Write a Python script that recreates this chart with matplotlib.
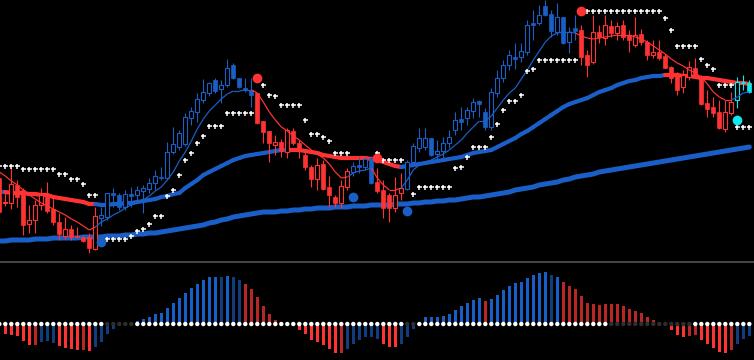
import matplotlib
matplotlib.use("Agg")
import matplotlib.pyplot as plt
import numpy as np
from matplotlib.patches import Rectangle
from matplotlib.collections import LineCollection
from matplotlib.lines import Line2D

# bar index (bar -1 is the half-visible one on the left edge)
bars = list(range(-1, 125))

opens = [83, 58, 58, 76, 71, 37, 41, 56, 64, 52, 39, 25, 32, 25, 24, 24, 12, 43, 44, 68,
         66, 54, 67, 66, 70, 72, 78, 84, 83, 109, 114, 117, 143, 149, 161, 168, 181, 172, 176, 196,
         183, 173, 171, 168, 140, 130, 116, 119, 109, 130, 118, 106, 94, 82, 97, 74, 64, 58, 74, 89,
         96, 94, 103, 79, 71, 66, 53, 68, 72, 99, 113, 114, 123, 107, 110, 118, 131, 142, 143, 150,
         160, 149, 134, 168, 183, 196, 204, 204, 209, 238, 238, 255, 247, 229, 244, 219, 233, 231, 206, 199,
         229, 223, 235, 228, 236, 226, 216, 227, 219, 206, 209, 205, 194, 186, 174, 184, 193, 184, 158, 154,
         149, 132, 148, 161, 179, 178]
highs = [91, 69, 94, 81, 73, 56, 61, 73, 79, 63, 48, 44, 36, 34, 25, 28, 54, 54, 68, 73,
         68, 71, 74, 75, 76, 83, 91, 94, 119, 134, 131, 148, 154, 168, 182, 179, 183, 181, 202, 198,
         183, 183, 183, 168, 140, 130, 126, 122, 133, 133, 121, 109, 96, 103, 101, 85, 66, 81, 93, 99,
         104, 104, 105, 93, 81, 68, 84, 88, 101, 118, 133, 133, 123, 121, 124, 131, 149, 154, 154, 163,
         161, 153, 173, 191, 201, 211, 218, 218, 241, 251, 256, 261, 251, 258, 244, 234, 246, 236, 211, 246,
         236, 246, 241, 239, 241, 231, 244, 232, 221, 221, 221, 207, 195, 189, 191, 200, 203, 186, 171, 164,
         161, 161, 169, 184, 186, 181]
lows = [47, 55, 52, 54, 26, 28, 28, 51, 48, 36, 21, 22, 21, 24, 19, 8, 11, 35, 41, 54,
        51, 51, 54, 58, 48, 68, 71, 81, 81, 107, 111, 115, 136, 139, 158, 165, 168, 158, 174, 182,
        173, 169, 154, 137, 118, 99, 106, 104, 103, 116, 103, 91, 74, 71, 71, 54, 54, 53, 71, 85,
        88, 91, 77, 68, 43, 39, 49, 61, 71, 97, 109, 111, 105, 99, 103, 113, 126, 131, 136, 143,
        144, 131, 131, 164, 179, 191, 192, 199, 206, 221, 236, 245, 224, 226, 217, 208, 221, 196, 184, 197,
        218, 216, 224, 221, 221, 209, 214, 216, 201, 203, 201, 193, 178, 166, 168, 181, 184, 156, 144, 144,
        132, 129, 146, 153, 171, 168]
closes = [49, 59, 77, 64, 36, 41, 56, 66, 50, 39, 27, 32, 24, 24, 20, 13, 45, 46, 68, 66,
          54, 67, 65, 71, 73, 78, 85, 83, 109, 117, 128, 144, 150, 162, 169, 178, 170, 176, 193, 183,
          174, 171, 166, 138, 129, 118, 119, 110, 131, 118, 111, 94, 82, 96, 72, 66, 58, 75, 90, 95,
          94, 102, 78, 70, 53, 53, 66, 73, 99, 115, 123, 123, 106, 110, 118, 124, 141, 139, 151, 159,
          157, 134, 169, 183, 196, 206, 202, 210, 236, 236, 246, 246, 230, 244, 218, 229, 230, 204, 196, 229,
          224, 236, 228, 235, 224, 221, 226, 219, 206, 209, 203, 193, 183, 171, 186, 194, 186, 157, 152, 148,
          133, 149, 159, 179, 178, 169]

# trend state of each candle: r = red, b = blue, c = cyan
trend = "r" * 17 + "b" * 26 + "r" * 16 + "b" * 4 + "r" * 5 + "b" * 29 + "r" * 26 + "c" * 3

fast_ma = [89, 85, 80, 76, 71, 66, 62, 58, 55, 52, 49, 46, 42, 39, 35, 31, 34, 39, 42, 46,
           49, 53, 56, 58, 61, 65, 70, 74, 81, 89, 100, 109, 120, 132, 142, 150, 156, 162, 167, 170,
           170, 171, 171, 168, 159, 149, 141, 134, 130, 125, 121, 116, 111, 107, 103, 97, 89, 83, 84, 88,
           90, 91, 93, 83, 76, 71, 71, 73, 81, 91, 96, 99, 101, 104, 107, 111, 116, 121, 128, 134,
           140, 140, 145, 153, 161, 168, 173, 182, 191, 201, 210, 219, 225, 228, 229, 229, 228, 225, 223, 222,
           223, 224, 225, 226, 226, 226, 224, 222, 219, 215, 211, 207, 202, 198, 195, 191, 188, 184, 177, 169,
           164, 161, 161, 164, 168, 169]
mid_ma = [69, 69, 68, 68, 68, 67, 67, 66, 66, 64, 63, 62, 61, 60, 59, 57, 57, 56, 56, 57,
          57, 58, 58, 59, 60, 61, 62, 64, 65, 67, 68, 73, 77, 81, 86, 89, 92, 95, 98, 101,
          103, 105, 106, 107, 108, 109, 110, 111, 111, 111, 111, 110, 109, 108, 106, 105, 104, 103, 103, 103,
          103, 103, 102, 101, 99, 97, 95, 94, 95, 96, 97, 98, 99, 100, 101, 102, 103, 104, 106, 108,
          109, 110, 111, 114, 117, 120, 123, 127, 130, 134, 138, 142, 146, 150, 154, 157, 159, 161, 163, 166,
          169, 171, 173, 176, 178, 180, 181, 183, 184, 185, 185, 186, 186, 186, 185, 185, 184, 183, 183, 182,
          181, 180, 179, 178, 178, 177]
mid_state = "b" * 2 + "r" * 15 + "b" * 32 + "r" * 19 + "b" * 44 + "r" * 14
slow_ma = [20, 20, 21, 21, 21, 21, 22, 22, 22, 23, 23, 23, 23, 23, 24, 24, 24, 24, 25, 25,
           25, 26, 26, 27, 27, 28, 28, 29, 30, 31, 32, 33, 34, 35, 36, 38, 39, 41, 42, 44,
           45, 46, 47, 48, 49, 49, 49, 50, 50, 51, 51, 52, 52, 53, 53, 53, 54, 54, 54, 55,
           55, 55, 56, 56, 56, 56, 57, 57, 57, 58, 58, 59, 59, 60, 60, 61, 61, 62, 63, 64,
           64, 65, 66, 67, 68, 69, 71, 72, 73, 74, 76, 77, 78, 79, 81, 82, 84, 85, 86, 87,
           89, 90, 91, 92, 93, 94, 95, 96, 97, 98, 99, 100, 101, 102, 103, 104, 105, 106, 107, 108,
           109, 110, 111, 112, 113, 114]

nan = np.nan
psar = [95, 95, 95, 95, 92, 92, 92, 92, 92, 92, 87, 87, 82, 82, 77, 66, 66, nan, 22, 22,
        22, 22, 25, 30, 32, 37, 45, 45, 65, 71, 86, 101, 108, 118, 125, 135, 135, 135, 148, 148,
        148, 148, 148, nan, 176, 166, 165, 156, 156, 156, 156, 141, 127, 127, 124, 120, 108, 108, 108, nan,
        nan, nan, nan, 108, 101, 101, 101, 101, nan, 67, 74, 74, 74, 74, 74, 74, 93, 94, 104, 114,
        114, 114, 124, 137, 151, 160, 160, 166, 190, 192, 201, 201, 201, 201, 201, 201, 201, nan, 250, 250,
        250, 250, 250, 250, 250, 250, 250, 250, 250, 250, 250, 243, 231, 215, 215, 215, 215, 202, 196, 192,
        176, 176, 176, 134, 134, 134]

# trend change dots
flip_bars = [16, 42, 58, 62, 67, 96, 122]
flip_values = [19, 183, 64, 103, 50, 250, 141]
flip_state = ["b", "r", "b", "r", "b", "r", "c"]

# momentum histogram (lower panel)
hist = [0, -10, -11, -12, -17, -21, -21, -18, -17, -19, -22, -24, -25, -26, -26, -27, -23, -18, -10, -5,
        0, 0, 0, 3, 5, 7, 10, 11, 16, 21, 26, 31, 36, 40, 44, 47, 47, 47, 48, 47,
        44, 40, 35, 27, 18, 10, 4, 0, 0, 0, -6, -10, -16, -18, -21, -25, -29, -29, -25, -20,
        -16, -13, -13, -15, -20, -23, -23, -20, -13, -5, 0, 7, 7, 7, 8, 10, 14, 18, 21, 24,
        26, 23, 25, 29, 34, 38, 41, 42, 46, 49, 51, 52, 49, 47, 42, 38, 35, 28, 21, 20,
        19, 20, 20, 20, 18, 15, 13, 11, 7, 4, 0, 0, -6, -11, -13, -12, -11, -16, -20, -24,
        -28, -29, -26, -20, -15, -12]
hist_state = ("n" + "R" * 5 + "r" + "b" * 3 + "R" * 4 + "r" + "R" + "b" * 4 + "n" * 3
              + "B" * 14 + "b" + "B" + "b" * 2 + "r" * 6 + "n" * 3 + "R" * 7 + "r" + "b" * 6
              + "R" * 3 + "b" * 3 + "n" + "B" * 10 + "r" + "B" * 10 + "b" + "B" + "r" * 16
              + "n" * 2 + "R" * 3 + "r" * 2 + "R" * 5 + "r" + "b" * 3)
squeeze = "w" * 18 + "g" * 5 + "w" * 45 + "g" * 2 + "w" * 32 + "g" * 14 + "w" * 10

for name, seq in [("opens", opens), ("highs", highs), ("lows", lows), ("closes", closes),
                  ("trend", trend), ("fast", fast_ma), ("mid", mid_ma), ("mid_state", mid_state),
                  ("slow", slow_ma), ("psar", psar), ("hist", hist), ("hist_state", hist_state),
                  ("squeeze", squeeze)]:
    assert len(seq) == len(bars), (name, len(seq))

candle_col = {"r": "#ff3333", "b": "#1a5fc4", "c": "#11e8ee"}
ma_col = {"r": "#ff3333", "b": "#1a5fc8", "c": "#1a5fc8"}
hist_col = {"B": "#1560c8", "b": "#0f3d7e", "R": "#ff3333", "r": "#b82626", "n": "#000000"}
dot_col = {"w": "#ffffff", "g": "#2e2e2e"}

W, H = 754, 360
fig = plt.figure(figsize=(W / 100, H / 100), dpi=100, facecolor="black")
ax = fig.add_axes([0, 99 / H, 1, 261 / H])
ax2 = fig.add_axes([0, 0, 1, 97 / H])
for a in (ax, ax2):
    a.set_facecolor("black")
    a.set_axis_off()
    a.set_xlim(-0.883, 124.78)
ax.set_ylim(0, 261)
ax2.set_ylim(-36, 61)
fig.add_artist(Line2D([0, 1], [98 / H, 98 / H], color="#474747", lw=1.4))

x = np.array(bars)

# moving averages
ax.plot(x, slow_ma, color="#1a5fc8", lw=3.6, solid_capstyle="round", zorder=1)
pts = np.column_stack([x, mid_ma])
segs = [pts[i:i + 2] for i in range(len(pts) - 1)]
ax.add_collection(LineCollection(segs, colors=[ma_col[s] for s in mid_state[1:]],
                                 linewidths=3.0, capstyle="round", zorder=2))

# candles
bw = 0.72
for i, b in enumerate(bars):
    c = candle_col[trend[i]]
    ax.vlines(b, lows[i], highs[i], color=c, lw=0.8, zorder=3)
    lo, hi = min(opens[i], closes[i]), max(opens[i], closes[i])
    if hi - lo < 1:
        hi = lo + 1
    if closes[i] > opens[i]:
        ax.add_patch(Rectangle((b - bw / 2, lo), bw, hi - lo, facecolor="black",
                               edgecolor=c, lw=0.8, zorder=4))
    else:
        ax.add_patch(Rectangle((b - bw / 2, lo), bw, hi - lo, facecolor=c,
                               edgecolor=c, lw=0.5, zorder=4))

pts = np.column_stack([x, fast_ma])
segs = [pts[i:i + 2] for i in range(len(pts) - 1)]
ax.add_collection(LineCollection(segs, colors=[ma_col[s] for s in trend[1:]],
                                 linewidths=0.9, zorder=5))

ax.plot(x, psar, ls="none", marker="+", color="white", ms=3.6, mew=1.1, zorder=6)
for b, v, s in zip(flip_bars, flip_values, flip_state):
    ax.plot(b, v, marker="o", ms=7, color=candle_col[s], mec="none", zorder=7)

# lower panel
ax2.bar(x, hist, width=0.42, color=[hist_col[s] for s in hist_state], zorder=1)
ax2.scatter(x, np.zeros(len(x)), s=10, c=[dot_col[s] for s in squeeze],
            edgecolors="none", zorder=2)

fig.savefig("out.png", dpi=100, facecolor="black")
